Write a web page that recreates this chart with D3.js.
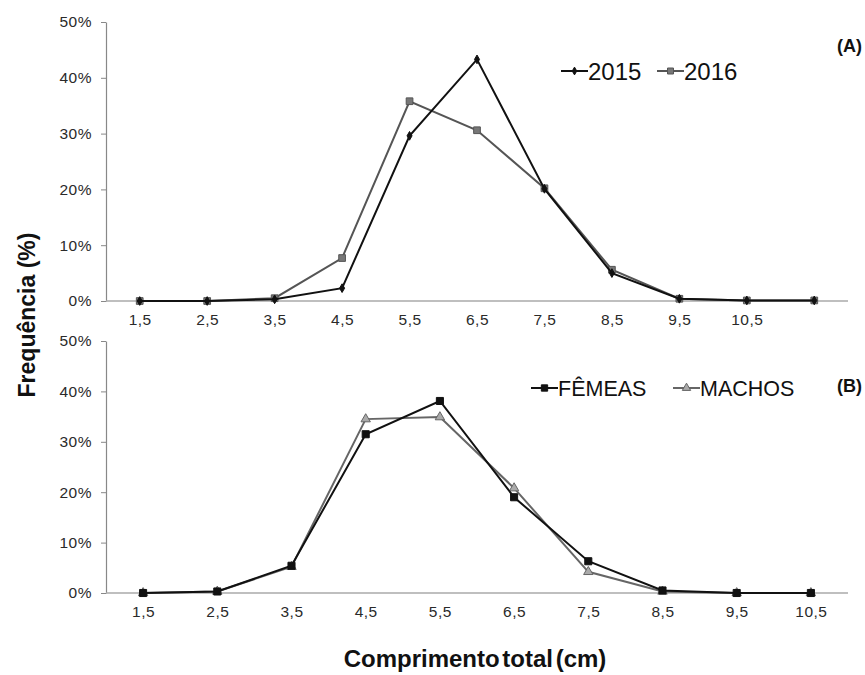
<!DOCTYPE html>
<html><head><meta charset="utf-8">
<script src="https://cdn.jsdelivr.net/npm/d3@7"></script>
<style>
body{margin:0;background:#fff;}
text{font-family:"Liberation Sans",Arial,sans-serif;}
</style></head>
<body><svg id="c" width="865" height="675"></svg>
<script>
// Panel A
const catsA = ["1,5","2,5","3,5","4,5","5,5","6,5","7,5","8,5","9,5","10,5",""];
const s2015 = [0,0,0.3,2.3,29.6,43.3,20.1,5.0,0.4,0.1,0.1];
const s2016 = [0,0,0.5,7.7,35.8,30.6,20.2,5.6,0.4,0.1,0.1];
// Panel B
const catsB = ["1,5","2,5","3,5","4,5","5,5","6,5","7,5","8,5","9,5","10,5"];
const femeas = [0,0.3,5.4,31.5,38.1,19.0,6.3,0.5,0,0];
const machos = [0,0.3,5.2,34.5,34.9,20.8,4.2,0.3,0,0];
const yTicks = [0,10,20,30,40,50];

const svg = d3.select("#c");
const X0 = 106, X1 = 848;

function panel(cats, series, top, bottom, legend, tag, legY, tagY) {
  const x = d3.scalePoint().domain(d3.range(cats.length)).range([X0, X1]).padding(0.5);
  const y = d3.scaleLinear().domain([0, 50]).range([bottom, top]);
  const g = svg.append("g");
  const ya = g.append("g").attr("transform", `translate(${X0},0)`)
    .call(d3.axisLeft(y).tickValues(yTicks).tickFormat(d => d + "%").tickSizeOuter(0).tickSizeInner(5));
  ya.select(".domain").attr("stroke", "#888").attr("stroke-width", 1.2);
  ya.selectAll(".tick line").attr("stroke", "#888");
  ya.selectAll(".tick text").attr("font-size", 15.5).attr("fill", "#2a2a2a").attr("x", -14)
    .attr("letter-spacing", "0.5px");
  const xa = g.append("g").attr("transform", `translate(0,${bottom})`)
    .call(d3.axisBottom(x).tickFormat(i => cats[i]).tickSize(0));
  xa.select(".domain").attr("stroke", "#aaa").attr("stroke-width", 1.6).attr("d", `M${X0},0H${X1}`);
  xa.selectAll(".tick text").attr("font-size", 15.5).attr("fill", "#2a2a2a").attr("y", 13).attr("dy", "0.71em")
    .attr("letter-spacing", "0.5px");

  series.forEach(s => {
    const line = d3.line().x((d, i) => x(i)).y(d => y(d));
    g.append("path").datum(s.values).attr("fill", "none").attr("stroke", s.color)
      .attr("stroke-width", 2).attr("d", line);
    g.selectAll(null).data(s.values).enter().append("path")
      .attr("transform", (d, i) => `translate(${x(i)},${y(d)})`)
      .attr("d", d3.symbol().type(s.symbol).size(s.size)())
      .attr("fill", s.fill).attr("stroke", s.stroke).attr("stroke-width", 1);
  });

  legend.forEach(l => {
    const s = l.s;
    g.append("line").attr("x1", l.x).attr("x2", l.x + 27).attr("y1", legY).attr("y2", legY)
      .attr("stroke", s.color).attr("stroke-width", 2);
    g.append("path").attr("transform", `translate(${l.x + 13.5},${legY})`)
      .attr("d", d3.symbol().type(s.symbol).size(s.size * 0.8)())
      .attr("fill", s.fill).attr("stroke", s.stroke);
    g.append("text").attr("x", l.x + 27).attr("y", legY).attr("dy", "0.36em")
      .attr("font-size", l.fs).attr("fill", "#111").text(s.name);
  });
  g.append("text").attr("x", 862).attr("y", tagY).attr("text-anchor", "end")
    .attr("font-size", 18).attr("font-weight", "bold").attr("fill", "#111").text(tag);
}

const A1 = {name:"2015", values:s2015, color:"#111", symbol:d3.symbolDiamond, size:22, fill:"#111", stroke:"#111"};
const A2 = {name:"2016", values:s2016, color:"#555", symbol:d3.symbolSquare, size:45, fill:"#777", stroke:"#555"};
panel(catsA, [A2, A1], 22, 301, [{s:A1, x:561, fs:24}, {s:A2, x:657, fs:24}], "(A)", 71, 52);

const B1 = {name:"FÊMEAS", values:femeas, color:"#111", symbol:d3.symbolSquare, size:50, fill:"#111", stroke:"#111"};
const B2 = {name:"MACHOS", values:machos, color:"#666", symbol:d3.symbolTriangle, size:38, fill:"#aaa", stroke:"#666"};
panel(catsB, [B2, B1], 341, 593, [{s:B1, x:531, fs:21.5}, {s:B2, x:673, fs:21.5}], "(B)", 388, 392);

svg.append("text").attr("transform", "translate(35,315) rotate(-90)").attr("text-anchor", "middle")
  .attr("font-size", 23).attr("font-weight", "bold").attr("fill", "#111").text("Frequência (%)");
svg.append("text").attr("x", 475).attr("y", 667).attr("text-anchor", "middle")
  .attr("font-size", 24).attr("font-weight", "bold").attr("fill", "#111").attr("word-spacing", "-4px")
  .text("Comprimento total (cm)");
</script></body></html>
